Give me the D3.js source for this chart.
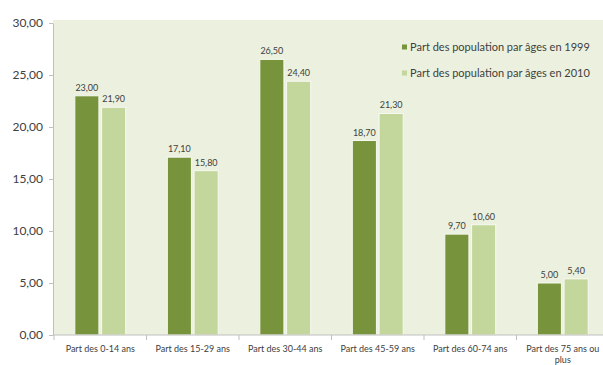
<!DOCTYPE html>
<html>
<head>
<meta charset="utf-8">
<script src="https://cdn.jsdelivr.net/npm/d3@7"></script>
<style>
  html, body { margin: 0; padding: 0; background: #ffffff; }
  svg { display: block; font-family: Lato, "Open Sans", sans-serif; }
</style>
</head>
<body>
<svg id="chart" width="603" height="365"></svg>
<script>
// Age groups and the share of population (%) in each census year
const categories = [
  "Part des 0-14 ans",
  "Part des 15-29 ans",
  "Part des 30-44 ans",
  "Part des 45-59 ans",
  "Part des 60-74 ans",
  "Part des 75 ans ou plus"
];
const seriesNames = [
  "Part des population par âges en 1999",
  "Part des population par âges en 2010"
];
const values1999 = [23.00, 17.10, 26.50, 18.70, 9.70, 5.00];
const values2010 = [21.90, 15.80, 24.40, 21.30, 10.60, 5.40];
const yTicks = [0, 5, 10, 15, 20, 25, 30];

const colors = ["#77933c", "#c3d69b"];
const series = [values1999, values2010];

const svg = d3.select("#chart");
const W = 603, H = 365;
const plot = { left: 53, right: 609, top: 23, bottom: 335 };

const y = d3.scaleLinear().domain([0, 30]).range([plot.bottom, plot.top]);
const x0 = d3.scaleBand().domain(categories)
  .range([plot.left + 1, plot.right])
  .paddingInner(0.45).paddingOuter(0.225);
const x1 = d3.scaleBand().domain([0, 1])
  .range([0, x0.bandwidth()]).paddingInner(0.1);

const fmt = v => d3.format(".2f")(v).replace(".", ",");

// plot area background
svg.append("rect")
  .attr("x", plot.left).attr("y", plot.top - 3)
  .attr("width", W - plot.left).attr("height", plot.bottom - plot.top + 3)
  .attr("fill", "#ebf1de");

// bars
const groups = svg.append("g").selectAll("g")
  .data(categories).join("g")
  .attr("transform", d => `translate(${x0(d)},0)`);

groups.selectAll("rect")
  .data((d, i) => series.map((s, k) => ({ k, v: s[i] })))
  .join("rect")
  .attr("x", d => x1(d.k))
  .attr("y", d => y(d.v))
  .attr("width", x1.bandwidth())
  .attr("height", d => y(0) - y(d.v))
  .attr("fill", d => colors[d.k])
  .attr("stroke", "#f7faf2")
  .attr("stroke-width", 1);

// value labels
groups.selectAll("text.val")
  .data((d, i) => series.map((s, k) => ({ k, v: s[i] })))
  .join("text")
  .attr("class", "val")
  .attr("x", d => x1(d.k) + x1.bandwidth() / 2)
  .attr("y", d => y(d.v) - 5)
  .attr("text-anchor", "middle")
  .attr("font-size", 9)
  .attr("fill", "#404040")
  .text(d => fmt(d.v));

// y axis
const yAxis = svg.append("g")
  .attr("transform", `translate(${plot.left},0)`)
  .call(d3.axisLeft(y).tickValues(yTicks).tickFormat(fmt).tickSize(4).tickSizeOuter(0));
yAxis.select(".domain").attr("stroke", "#bfbfbf");
yAxis.selectAll(".tick line").attr("stroke", "#bfbfbf");
yAxis.selectAll(".tick text")
  .attr("font-size", 12).attr("fill", "#404040")
  .attr("font-family", "Lato, sans-serif")
  .attr("x", -10);

// x axis baseline and category separators
svg.append("line")
  .attr("x1", plot.left).attr("x2", W)
  .attr("y1", y(0)).attr("y2", y(0))
  .attr("stroke", "#bfbfbf");
const step = x0.step();
svg.append("g").selectAll("line")
  .data(d3.range(categories.length + 1))
  .join("line")
  .attr("x1", i => x0(categories[0]) - x0.paddingOuter() * step + i * step)
  .attr("x2", i => x0(categories[0]) - x0.paddingOuter() * step + i * step)
  .attr("y1", y(0)).attr("y2", y(0) + 5)
  .attr("stroke", "#bfbfbf");

// category labels (wrapped when wider than the slot)
const xLabels = svg.append("g").selectAll("text")
  .data(categories).join("text")
  .attr("x", d => x0(d) + x0.bandwidth() / 2)
  .attr("y", y(0) + 17)
  .attr("text-anchor", "middle")
  .attr("font-size", 9)
  .attr("fill", "#404040");

xLabels.each(function(d) {
  const t = d3.select(this);
  const cx = +t.attr("x");
  const words = d.split(" ");
  let line = [];
  let tspan = t.append("tspan").attr("x", cx);
  let lineNo = 0;
  for (const w of words) {
    line.push(w);
    tspan.text(line.join(" "));
    if (tspan.node().getComputedTextLength() > 84 && line.length > 1) {
      line.pop();
      tspan.text(line.join(" "));
      line = [w];
      lineNo++;
      tspan = t.append("tspan").attr("x", cx).attr("dy", 11).text(w);
    }
  }
});

// legend
const legend = svg.append("g").selectAll("g")
  .data(seriesNames).join("g")
  .attr("transform", (d, i) => `translate(402,${47 + i * 26})`);
legend.append("rect")
  .attr("x", 0).attr("y", -2.5)
  .attr("width", 5).attr("height", 5)
  .attr("fill", (d, i) => colors[i]);
legend.append("text")
  .attr("x", 8).attr("y", 0)
  .attr("dy", "0.35em")
  .attr("font-size", 11)
  .attr("fill", "#404040")
  .text(d => d);
</script>
</body>
</html>
